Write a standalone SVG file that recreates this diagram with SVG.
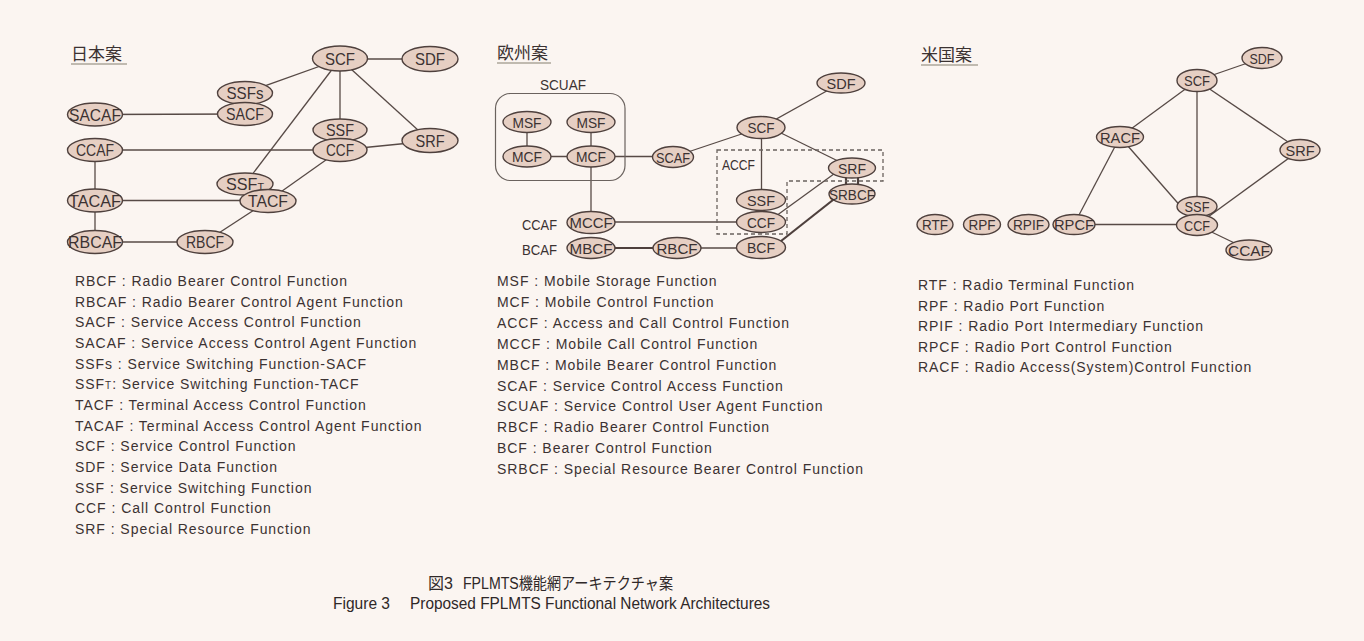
<svg xmlns="http://www.w3.org/2000/svg" width="1364" height="641" viewBox="0 0 1364 641">
<style>
.bg{fill:#fbf5f1}
.n{fill:#e6cfc3;stroke:#4e403d;stroke-width:1.4}
.c{stroke:#574a46;stroke-width:1.3;fill:none}
.ct{stroke:#4e403d;stroke-width:2.2;fill:none}
.dash{stroke:#6a625e;stroke-width:1.3;fill:none;stroke-dasharray:4 3}
.box{fill:none;stroke:#6a625e;stroke-width:1.2}
.t1{font-family:"Liberation Sans",Arial,sans-serif;font-size:16.5px;fill:#3b3232;text-anchor:middle}
.t2{font-family:"Liberation Sans",Arial,sans-serif;font-size:15.5px;fill:#3b3232;text-anchor:middle}
.t3{font-family:"Liberation Sans",Arial,sans-serif;font-size:15px;fill:#3b3232;text-anchor:middle}
.lbl{font-family:"Liberation Sans",Arial,sans-serif;font-size:14.5px;fill:#3b3232}
.lg{font-family:"Liberation Sans",Arial,sans-serif;font-size:14px;fill:#3b3232;letter-spacing:0.95px}
.ttl{font-family:"Noto Sans CJK JP",sans-serif;font-size:17px;fill:#3b3232}
.ul{stroke:#858070;stroke-width:1.2}
.cap{font-family:"Liberation Sans","Noto Sans CJK JP",sans-serif;font-size:16px;fill:#2f2828}
</style>
<rect class="bg" x="0" y="0" width="1364" height="641"/>

<g id="titles">
<text class="ttl" x="71" y="60">日本案</text>
<line class="ul" x1="71" y1="64" x2="127" y2="64"/>
<text class="ttl" x="497" y="59">欧州案</text>
<line class="ul" x1="497" y1="63" x2="551" y2="63"/>
<text class="ttl" x="921" y="61">米国案</text>
<line class="ul" x1="921" y1="65" x2="978" y2="65"/>
</g>

<g id="connectors">
<!-- Japan -->
<line class="c" x1="340" y1="59" x2="430" y2="59"/>
<line class="c" x1="340" y1="59" x2="245" y2="93"/>
<line class="c" x1="340" y1="59" x2="245" y2="184"/>
<line class="c" x1="340" y1="59" x2="340" y2="135"/>
<line class="c" x1="340" y1="59" x2="430" y2="141"/>
<line class="c" x1="95" y1="114.5" x2="245" y2="114"/>
<line class="c" x1="95" y1="150" x2="340" y2="150"/>
<line class="c" x1="340" y1="150" x2="430" y2="141"/>
<line class="c" x1="95" y1="150" x2="95" y2="200.5"/>
<line class="c" x1="95" y1="200.5" x2="95" y2="242"/>
<line class="c" x1="95" y1="200.5" x2="268" y2="200.5"/>
<line class="c" x1="268" y1="201" x2="340" y2="150"/>
<line class="c" x1="95" y1="242" x2="205" y2="242"/>
<line class="c" x1="205" y1="242" x2="268" y2="201"/>
<!-- Europe -->
<line class="c" x1="527" y1="122" x2="527" y2="156.5"/>
<line class="c" x1="591" y1="122" x2="591" y2="156.5"/>
<line class="c" x1="527" y1="156.5" x2="591" y2="156.5"/>
<line class="c" x1="591" y1="156.5" x2="673" y2="156.5"/>
<line class="c" x1="591" y1="156.5" x2="591" y2="222.5"/>
<line class="c" x1="673" y1="157" x2="761" y2="127.5"/>
<line class="c" x1="761" y1="127.5" x2="841" y2="83"/>
<line class="c" x1="761.5" y1="127.5" x2="761.5" y2="200"/>
<line class="c" x1="781" y1="133" x2="840" y2="162"/>
<line class="c" x1="591" y1="222" x2="761" y2="222"/>
<line class="c" x1="776" y1="216" x2="838" y2="171"/>
<line class="ct" x1="591" y1="248" x2="677" y2="248"/>
<line class="c" x1="677" y1="248" x2="761" y2="248"/>
<line class="ct" x1="776" y1="245" x2="838" y2="196"/>
<line class="ct" x1="846" y1="168" x2="846" y2="194"/>
<line class="ct" x1="858" y1="168" x2="858" y2="194"/>
<polygon class="dash" points="717,150 883,150 883,181 787,181 787,234 717,234"/>
<!-- US -->
<line class="c" x1="1197" y1="80.5" x2="1262" y2="58"/>
<line class="c" x1="1197" y1="80.5" x2="1120" y2="137"/>
<line class="c" x1="1197" y1="80.5" x2="1197" y2="206"/>
<line class="c" x1="1197" y1="80.5" x2="1300" y2="150"/>
<line class="c" x1="1120" y1="137" x2="1074" y2="224.5"/>
<line class="c" x1="1120" y1="137" x2="1197" y2="225"/>
<line class="c" x1="1074" y1="224.5" x2="1197" y2="224.5"/>
<line class="c" x1="1300" y1="150" x2="1197" y2="225"/>
<line class="c" x1="1197" y1="225" x2="1249" y2="250"/>
</g>

<!-- Japan nodes -->
<g id="jp-SCF"><ellipse class="n" cx="340" cy="58.5" rx="27.5" ry="12.5"/><text class="t1" x="340" y="64.5" textLength="30" lengthAdjust="spacingAndGlyphs">SCF</text></g>
<g id="jp-SDF"><ellipse class="n" cx="430" cy="59" rx="28" ry="12.5"/><text class="t1" x="430" y="65" textLength="30" lengthAdjust="spacingAndGlyphs">SDF</text></g>
<g id="jp-SSFs"><ellipse class="n" cx="245" cy="93" rx="27.5" ry="11.5"/><text class="t1" x="245" y="99" textLength="37" lengthAdjust="spacingAndGlyphs">SSFs</text></g>
<g id="jp-SACF"><ellipse class="n" cx="245" cy="114" rx="27.5" ry="11.5"/><text class="t1" x="245" y="120" textLength="38" lengthAdjust="spacingAndGlyphs">SACF</text></g>
<g id="jp-SACAF"><ellipse class="n" cx="95" cy="114.5" rx="27.5" ry="11.5"/><text class="t1" x="95" y="120.5" textLength="52" lengthAdjust="spacingAndGlyphs">SACAF</text></g>
<g id="jp-SSF"><ellipse class="n" cx="340" cy="130" rx="27" ry="11"/><text class="t1" x="340" y="136" textLength="28" lengthAdjust="spacingAndGlyphs">SSF</text></g>
<g id="jp-CCF"><ellipse class="n" cx="340" cy="150" rx="27" ry="11.5"/><text class="t1" x="340" y="156" textLength="28" lengthAdjust="spacingAndGlyphs">CCF</text></g>
<g id="jp-SRF"><ellipse class="n" cx="430" cy="140.5" rx="28" ry="12"/><text class="t1" x="430" y="146.5" textLength="29" lengthAdjust="spacingAndGlyphs">SRF</text></g>
<g id="jp-CCAF"><ellipse class="n" cx="95" cy="150" rx="27.5" ry="11.5"/><text class="t1" x="95" y="156" textLength="38" lengthAdjust="spacingAndGlyphs">CCAF</text></g>
<g id="jp-SSFT"><ellipse class="n" cx="245" cy="184" rx="28" ry="11"/><text class="t1" x="245" y="190" textLength="38" lengthAdjust="spacingAndGlyphs">SSF<tspan font-size="11" dy="1">T</tspan></text></g>
<g id="jp-TACF"><ellipse class="n" cx="268" cy="201" rx="28" ry="11.5"/><text class="t1" x="268" y="207" textLength="40" lengthAdjust="spacingAndGlyphs">TACF</text></g>
<g id="jp-TACAF"><ellipse class="n" cx="95" cy="200.5" rx="27.5" ry="11.5"/><text class="t1" x="95" y="206.5" textLength="52" lengthAdjust="spacingAndGlyphs">TACAF</text></g>
<g id="jp-RBCAF"><ellipse class="n" cx="95" cy="242" rx="27.5" ry="11.5"/><text class="t1" x="95" y="248" textLength="54" lengthAdjust="spacingAndGlyphs">RBCAF</text></g>
<g id="jp-RBCF"><ellipse class="n" cx="205" cy="242" rx="28" ry="11.5"/><text class="t1" x="205" y="248" textLength="38" lengthAdjust="spacingAndGlyphs">RBCF</text></g>

<!-- Europe nodes -->
<g id="eu-SCUAF"><rect class="box" x="495.5" y="93.5" width="129.5" height="87" rx="15"/><text class="lbl" x="563" y="89.5" text-anchor="middle" textLength="46" lengthAdjust="spacingAndGlyphs">SCUAF</text></g>
<g id="eu-MSF1"><ellipse class="n" cx="527" cy="122" rx="24" ry="10.5"/><text class="t2" x="527" y="127.5" textLength="29" lengthAdjust="spacingAndGlyphs">MSF</text></g>
<g id="eu-MSF2"><ellipse class="n" cx="591" cy="122" rx="24" ry="10.5"/><text class="t2" x="591" y="127.5" textLength="29" lengthAdjust="spacingAndGlyphs">MSF</text></g>
<g id="eu-MCF1"><ellipse class="n" cx="527" cy="156.5" rx="24" ry="10.5"/><text class="t2" x="527" y="162" textLength="30" lengthAdjust="spacingAndGlyphs">MCF</text></g>
<g id="eu-MCF2"><ellipse class="n" cx="591" cy="156.5" rx="24" ry="10.5"/><text class="t2" x="591" y="162" textLength="30" lengthAdjust="spacingAndGlyphs">MCF</text></g>
<g id="eu-SCAF"><ellipse class="n" cx="673" cy="157" rx="20.5" ry="10.5"/><text class="t2" x="673" y="162.5" textLength="34" lengthAdjust="spacingAndGlyphs">SCAF</text></g>
<g id="eu-SCF"><ellipse class="n" cx="761" cy="127.5" rx="24" ry="11"/><text class="t2" x="761" y="133" textLength="27" lengthAdjust="spacingAndGlyphs">SCF</text></g>
<g id="eu-SDF"><ellipse class="n" cx="841" cy="83" rx="24" ry="10"/><text class="t2" x="841" y="88.5" textLength="29" lengthAdjust="spacingAndGlyphs">SDF</text></g>
<g id="eu-ACCF"><text class="lbl" x="722" y="170" textLength="33" lengthAdjust="spacingAndGlyphs">ACCF</text></g>
<g id="eu-SRF"><ellipse class="n" cx="852" cy="168" rx="23.5" ry="10"/><text class="t2" x="852" y="173.5" textLength="28" lengthAdjust="spacingAndGlyphs">SRF</text></g>
<g id="eu-SRBCF"><ellipse class="n" cx="852" cy="194" rx="23" ry="10"/><text class="t2" x="852" y="199.5" textLength="46" lengthAdjust="spacingAndGlyphs">SRBCF</text></g>
<g id="eu-SSF"><ellipse class="n" cx="761" cy="200" rx="24.5" ry="10.5"/><text class="t2" x="761" y="205.5" textLength="28" lengthAdjust="spacingAndGlyphs">SSF</text></g>
<g id="eu-CCF"><ellipse class="n" cx="761" cy="222" rx="24.5" ry="10.5"/><text class="t2" x="761" y="227.5" textLength="28" lengthAdjust="spacingAndGlyphs">CCF</text></g>
<g id="eu-BCF"><ellipse class="n" cx="761" cy="247.5" rx="24.5" ry="11"/><text class="t2" x="761" y="253" textLength="28" lengthAdjust="spacingAndGlyphs">BCF</text></g>
<g id="eu-MCCF"><text class="lbl" x="522" y="229.5" textLength="35" lengthAdjust="spacingAndGlyphs">CCAF</text><ellipse class="n" cx="591" cy="222.5" rx="24" ry="11"/><text class="t2" x="591" y="228" textLength="43" lengthAdjust="spacingAndGlyphs">MCCF</text></g>
<g id="eu-MBCF"><text class="lbl" x="522" y="255" textLength="35" lengthAdjust="spacingAndGlyphs">BCAF</text><ellipse class="n" cx="591" cy="248" rx="24" ry="10.5"/><text class="t2" x="591" y="253.5" textLength="43" lengthAdjust="spacingAndGlyphs">MBCF</text></g>
<g id="eu-RBCF"><ellipse class="n" cx="677" cy="248" rx="24" ry="10.5"/><text class="t2" x="677" y="253.5" textLength="41" lengthAdjust="spacingAndGlyphs">RBCF</text></g>

<!-- US nodes -->
<g id="us-SDF"><ellipse class="n" cx="1262" cy="58" rx="20" ry="10.5"/><text class="t3" x="1262" y="63.5" textLength="25" lengthAdjust="spacingAndGlyphs">SDF</text></g>
<g id="us-SCF"><ellipse class="n" cx="1197" cy="80.5" rx="20" ry="11"/><text class="t3" x="1197" y="86" textLength="26" lengthAdjust="spacingAndGlyphs">SCF</text></g>
<g id="us-RACF"><ellipse class="n" cx="1120" cy="137" rx="23.5" ry="10.5"/><text class="t3" x="1120" y="142.5" textLength="40" lengthAdjust="spacingAndGlyphs">RACF</text></g>
<g id="us-SRF"><ellipse class="n" cx="1300" cy="150" rx="20" ry="10.5"/><text class="t3" x="1300" y="155.5" textLength="29" lengthAdjust="spacingAndGlyphs">SRF</text></g>
<g id="us-SSF"><ellipse class="n" cx="1197" cy="206.5" rx="20" ry="10"/><text class="t3" x="1197" y="212" textLength="25" lengthAdjust="spacingAndGlyphs">SSF</text></g>
<g id="us-CCF"><ellipse class="n" cx="1197" cy="225" rx="20.5" ry="10.5"/><text class="t3" x="1197" y="230.5" textLength="26" lengthAdjust="spacingAndGlyphs">CCF</text></g>
<g id="us-CCAF"><ellipse class="n" cx="1249" cy="250" rx="23" ry="10"/><text class="t3" x="1249" y="255.5" textLength="42" lengthAdjust="spacingAndGlyphs">CCAF</text></g>
<g id="us-RTF"><ellipse class="n" cx="935" cy="224.5" rx="18" ry="10"/><text class="t3" x="935" y="230" textLength="26" lengthAdjust="spacingAndGlyphs">RTF</text></g>
<g id="us-RPF"><ellipse class="n" cx="982" cy="224.5" rx="18.5" ry="10"/><text class="t3" x="982" y="230" textLength="27" lengthAdjust="spacingAndGlyphs">RPF</text></g>
<g id="us-RPIF"><ellipse class="n" cx="1028.5" cy="224.5" rx="20.5" ry="10"/><text class="t3" x="1028.5" y="230" textLength="31" lengthAdjust="spacingAndGlyphs">RPIF</text></g>
<g id="us-RPCF"><ellipse class="n" cx="1074" cy="224.5" rx="21" ry="10"/><text class="t3" x="1074" y="230" textLength="40" lengthAdjust="spacingAndGlyphs">RPCF</text></g>

<g id="legend-jp">
<text class="lg" x="75" y="286">RBCF : Radio Bearer Control Function</text>
<text class="lg" x="75" y="306.7">RBCAF : Radio Bearer Control Agent Function</text>
<text class="lg" x="75" y="327.3">SACF : Service Access Control Function</text>
<text class="lg" x="75" y="348">SACAF : Service Access Control Agent Function</text>
<text class="lg" x="75" y="368.7">SSFs : Service Switching Function-SACF</text>
<text class="lg" x="75" y="389.3">SSF<tspan font-size="10">T</tspan>: Service Switching Function-TACF</text>
<text class="lg" x="75" y="410">TACF : Terminal Access Control Function</text>
<text class="lg" x="75" y="430.7">TACAF : Terminal Access Control Agent Function</text>
<text class="lg" x="75" y="451.3">SCF : Service Control Function</text>
<text class="lg" x="75" y="472">SDF : Service Data Function</text>
<text class="lg" x="75" y="492.7">SSF : Service Switching Function</text>
<text class="lg" x="75" y="513.3">CCF : Call Control Function</text>
<text class="lg" x="75" y="534">SRF : Special Resource Function</text>
</g>
<g id="legend-eu">
<text class="lg" x="497" y="286">MSF : Mobile Storage Function</text>
<text class="lg" x="497" y="306.9">MCF : Mobile Control Function</text>
<text class="lg" x="497" y="327.8">ACCF : Access and Call Control Function</text>
<text class="lg" x="497" y="348.7">MCCF : Mobile Call Control Function</text>
<text class="lg" x="497" y="369.6">MBCF : Mobile Bearer Control Function</text>
<text class="lg" x="497" y="390.5">SCAF : Service Control Access Function</text>
<text class="lg" x="497" y="411.4">SCUAF : Service Control User Agent Function</text>
<text class="lg" x="497" y="432.3">RBCF : Radio Bearer Control Function</text>
<text class="lg" x="497" y="453.2">BCF : Bearer Control Function</text>
<text class="lg" x="497" y="474.1">SRBCF : Special Resource Bearer Control Function</text>
</g>
<g id="legend-us">
<text class="lg" x="918" y="290">RTF : Radio Terminal Function</text>
<text class="lg" x="918" y="310.5">RPF : Radio Port Function</text>
<text class="lg" x="918" y="331">RPIF : Radio Port Intermediary Function</text>
<text class="lg" x="918" y="351.5">RPCF : Radio Port Control Function</text>
<text class="lg" x="918" y="372">RACF : Radio Access(System)Control Function</text>
</g>

<g id="caption">
<text class="cap" x="428" y="589">図3</text>
<text class="cap" x="463" y="589" textLength="210" lengthAdjust="spacingAndGlyphs">FPLMTS機能網アーキテクチャ案</text>
<text class="cap" x="333" y="609" textLength="57" lengthAdjust="spacingAndGlyphs">Figure 3</text>
<text class="cap" x="410" y="609" textLength="360" lengthAdjust="spacingAndGlyphs">Proposed FPLMTS Functional Network Architectures</text>
</g>
</svg>
